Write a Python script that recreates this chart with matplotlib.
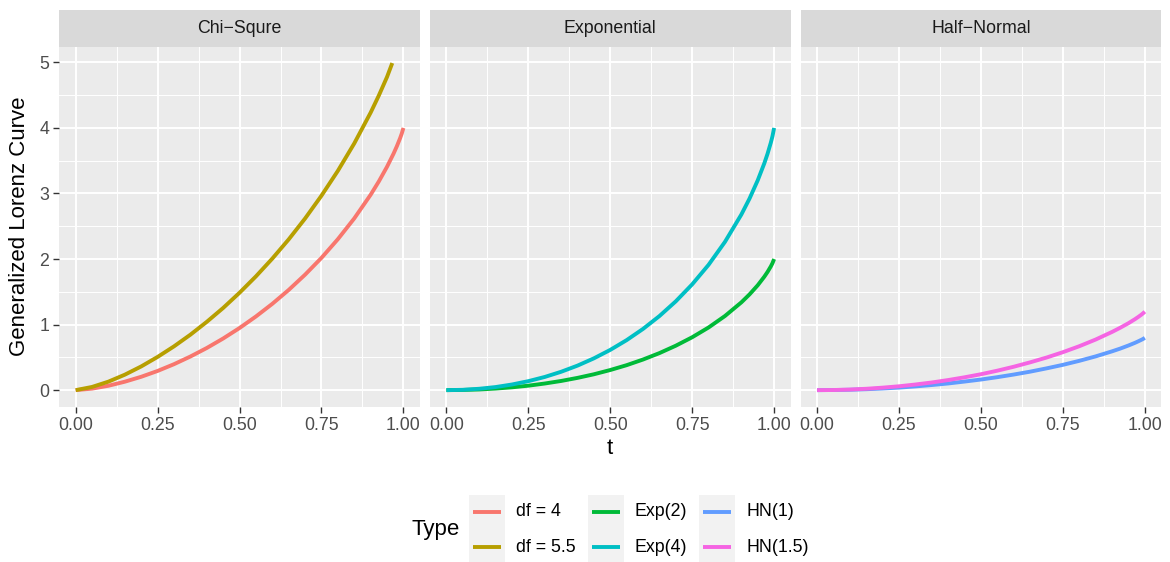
import matplotlib
matplotlib.use("Agg")
import matplotlib.pyplot as plt
from matplotlib.patches import Rectangle
from matplotlib.lines import Line2D

plt.rcParams['font.family'] = ['Liberation Sans', 'DejaVu Sans']

# ====================================================
# data
# ====================================================
t = [0, 0.05, 0.1, 0.15, 0.2, 0.25, 0.3, 0.35, 0.4, 0.45, 0.5, 0.55, 0.6,
     0.65, 0.7, 0.75, 0.8, 0.85, 0.9, 0.925, 0.95, 0.97, 0.98, 0.99, 0.995, 1.0]

chisq_df4 = [0, 0.023, 0.067, 0.129, 0.204, 0.293, 0.396, 0.513, 0.643, 0.788, 0.948,
             1.124, 1.317, 1.529, 1.762, 2.018, 2.303, 2.620, 2.981, 3.184, 3.408,
             3.609, 3.721, 3.845, 3.915, 4.0]

t_df55 = [0, 0.05, 0.1, 0.15, 0.2, 0.25, 0.3, 0.35, 0.4, 0.45, 0.5, 0.55, 0.6,
          0.65, 0.7, 0.75, 0.8, 0.85, 0.9, 0.925, 0.95, 0.966]
chisq_df55 = [0, 0.049, 0.130, 0.236, 0.362, 0.507, 0.668, 0.846, 1.042, 1.254, 1.486,
              1.736, 2.007, 2.300, 2.619, 2.967, 3.346, 3.764, 4.234, 4.495, 4.778, 4.99]

exp2 = [0, 0.003, 0.010, 0.024, 0.043, 0.068, 0.101, 0.140, 0.187, 0.242, 0.307,
        0.381, 0.467, 0.565, 0.678, 0.807, 0.956, 1.131, 1.339, 1.461, 1.600,
        1.730, 1.804, 1.888, 1.937, 2.0]
exp4 = [0, 0.005, 0.021, 0.047, 0.086, 0.137, 0.201, 0.280, 0.374, 0.485, 0.614,
        0.763, 0.934, 1.130, 1.355, 1.614, 1.912, 2.262, 2.679, 2.923, 3.201,
        3.459, 3.607, 3.776, 3.874, 4.0]

hn1 = [0, 0.002, 0.006, 0.014, 0.025, 0.039, 0.057, 0.078, 0.102, 0.131, 0.162,
       0.198, 0.238, 0.282, 0.332, 0.386, 0.447, 0.515, 0.592, 0.634, 0.681,
       0.722, 0.745, 0.769, 0.782, 0.798]
hn15 = [0, 0.002, 0.009, 0.021, 0.038, 0.059, 0.086, 0.117, 0.154, 0.196, 0.243,
        0.297, 0.357, 0.424, 0.497, 0.579, 0.670, 0.772, 0.888, 0.952, 1.021,
        1.083, 1.117, 1.153, 1.174, 1.197]

facet_names = ['Chi\u2212Squre', 'Exponential', 'Half\u2212Normal']
type_labels = ['df = 4', 'df = 5.5', 'Exp(2)', 'Exp(4)', 'HN(1)', 'HN(1.5)']
type_colors = ['#F8766D', '#B79F00', '#00BA38', '#00BFC4', '#619CFF', '#F564E3']

x_ticks = [0, 0.25, 0.5, 0.75, 1.0]
x_ticklabels = ['0.00', '0.25', '0.50', '0.75', '1.00']
y_ticks = [0, 1, 2, 3, 4, 5]

panels = [
    [(t, chisq_df4, 0), (t_df55, chisq_df55, 1)],
    [(t, exp2, 2), (t, exp4, 3)],
    [(t, hn1, 4), (t, hn15, 5)],
]

# ====================================================
# layout (pixels of a 1170x562 canvas)
# ====================================================
W, H = 1170, 562
fig = plt.figure(figsize=(W / 100, H / 100), dpi=100)

panel_left = [59.3, 430.0, 800.7]
panel_w = 360.5
panel_top, panel_bot = 46.7, 406.5
strip_top = 10.0

all_y = chisq_df4 + chisq_df55 + exp2 + exp4 + hn1 + hn15
ymin, ymax = min(all_y), max(all_y)
pad = (ymax - ymin) * 0.05

for i, series in enumerate(panels):
    left = panel_left[i] / W
    ax = fig.add_axes([left, 1 - panel_bot / H, panel_w / W, (panel_bot - panel_top) / H])
    ax.set_facecolor('#EBEBEB')
    for s in ax.spines.values():
        s.set_visible(False)
    ax.set_xlim(-0.05, 1.05)
    ax.set_ylim(ymin - pad, ymax + pad)
    ax.set_xticks(x_ticks)
    ax.set_xticklabels(x_ticklabels)
    ax.set_xticks([0.125, 0.375, 0.625, 0.875], minor=True)
    ax.set_yticks(y_ticks)
    ax.set_yticks([0.5, 1.5, 2.5, 3.5, 4.5], minor=True)
    ax.grid(which='major', color='white', linewidth=1.4)
    ax.grid(which='minor', color='white', linewidth=0.7)
    ax.set_axisbelow(True)
    ax.tick_params(which='major', length=4.0, width=1.0, color='#333333',
                   labelsize=12.8, labelcolor='#4D4D4D')
    ax.tick_params(axis='x', which='major', pad=3.6)
    ax.tick_params(axis='y', which='major', pad=3.2)
    ax.tick_params(which='minor', length=0)
    if i > 0:
        ax.tick_params(axis='y', which='major', length=0, labelleft=False)

    for xs, ys, k in series:
        ax.plot(xs, ys, color=type_colors[k], linewidth=2.8, solid_capstyle='butt')

    # facet strip
    sax = fig.add_axes([left, 1 - panel_top / H, panel_w / W, (panel_top - strip_top) / H])
    sax.set_facecolor('#D9D9D9')
    sax.set_xticks([])
    sax.set_yticks([])
    for s in sax.spines.values():
        s.set_visible(False)
    sax.text(0.5, 0.5, facet_names[i], ha='center', va='center',
             fontsize=12.8, color='#1A1A1A', transform=sax.transAxes)

# axis titles
fig.text(20 / W, 1 - (panel_top + panel_bot) / 2 / H, 'Generalized Lorenz Curve',
         rotation=90, ha='center', va='center', fontsize=16, color='black')
fig.text(610 / W, 1 - 449 / H, 't', ha='center', va='center', fontsize=16, color='black')

# ====================================================
# legend drawn in pixel space
# ====================================================
lax = fig.add_axes([0, 0, 1, 1], facecolor='none')
lax.set_xlim(0, W)
lax.set_ylim(H, 0)
lax.axis('off')

lax.text(411.5, 530, 'Type', ha='left', va='center', fontsize=16, color='black')
key_x = [469, 588, 699]
key_w = 36
row_y = [512, 547.3]
row_h = 34.6
for kx in key_x:
    lax.add_patch(Rectangle((kx, row_y[0] - row_h / 2), key_w, 2 * row_h + 1,
                            facecolor='#F2F2F2', edgecolor='none'))
for k, lab in enumerate(type_labels):
    col, row = k // 2, k % 2
    kx = key_x[col]
    ky = row_y[row]
    lax.add_line(Line2D([kx + 4, kx + key_w - 4], [ky, ky],
                        color=type_colors[k], linewidth=2.8, solid_capstyle='butt'))
    lax.text(kx + key_w + 11, ky, lab, ha='left', va='center', fontsize=12.8, color='black')

fig.savefig('out.png', dpi=100)
